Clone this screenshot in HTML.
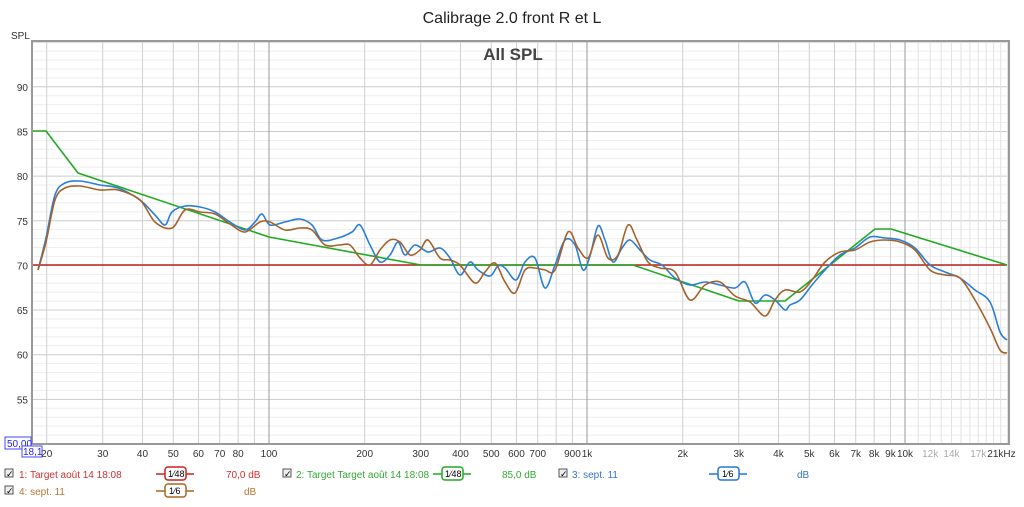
<!DOCTYPE html>
<html><head><meta charset="utf-8"><style>
body{margin:0;background:#fff;width:1024px;height:502px;overflow:hidden;font-family:"Liberation Sans",sans-serif}
svg text{font-family:"Liberation Sans",sans-serif}
</style></head><body>
<svg id="s" width="1024" height="502" xmlns="http://www.w3.org/2000/svg">
<text x="512" y="23" font-size="16" text-anchor="middle" fill="#222">Calibrage 2.0 front R et L</text>
<text x="11" y="39" font-size="10" fill="#333">SPL</text>
<g id="grid"></g>
<text x="513" y="60" font-size="17" font-weight="bold" text-anchor="middle" fill="#444">All SPL</text>
<g id="curves" fill="none" stroke-linejoin="round"></g>
<rect x="32" y="41" width="977" height="403" fill="none" stroke="#999" stroke-width="2"/>
<rect x="5" y="437" width="26" height="12" fill="#fff" stroke="#44f"/>
<text x="7" y="447" font-size="10" fill="#22f">50,00</text>
<rect x="22" y="446" width="20" height="11" fill="#fff" stroke="#44f"/>
<text x="23" y="455" font-size="10" fill="#22f">18,1</text>
<g font-size="10">
<rect x="5" y="469" width="8" height="8" fill="#eee" stroke="#555"/><text x="6" y="477" font-size="9">✓</text>
<text x="19" y="478" fill="#c33">1: Target août 14 18:08</text>
<line x1="156" y1="474" x2="194" y2="474" stroke="#c22" stroke-width="1.5"/><rect x="165" y="467" width="21" height="13" rx="3" fill="#fff" stroke="#c22" stroke-width="1.5"/><text x="168" y="477" font-size="9">1⁄48</text>
<text x="226" y="478" fill="#c33">70,0 dB</text>
<rect x="283" y="469" width="8" height="8" fill="#eee" stroke="#555"/><text x="284" y="477" font-size="9">✓</text>
<text x="296" y="478" fill="#3a3">2: Target Target août 14 18:08</text>
<line x1="433" y1="474" x2="471" y2="474" stroke="#2a2" stroke-width="1.5"/><rect x="442" y="467" width="21" height="13" rx="3" fill="#fff" stroke="#2a2" stroke-width="1.5"/><text x="445" y="477" font-size="9">1⁄48</text>
<text x="502" y="478" fill="#3a3">85,0 dB</text>
<rect x="559" y="469" width="8" height="8" fill="#eee" stroke="#555"/><text x="560" y="477" font-size="9">✓</text>
<text x="572" y="478" fill="#37c">3: sept. 11</text>
<line x1="709" y1="474" x2="747" y2="474" stroke="#27d" stroke-width="1.5"/><rect x="718" y="467" width="21" height="13" rx="3" fill="#fff" stroke="#27d" stroke-width="1.5"/><text x="722" y="477" font-size="9">1⁄6</text>
<text x="797" y="478" fill="#37c">dB</text>
<rect x="5" y="486" width="8" height="8" fill="#eee" stroke="#555"/><text x="6" y="494" font-size="9">✓</text>
<text x="19" y="495" fill="#b73">4: sept. 11</text>
<line x1="156" y1="491" x2="194" y2="491" stroke="#a62" stroke-width="1.5"/><rect x="165" y="484" width="21" height="13" rx="3" fill="#fff" stroke="#a62" stroke-width="1.5"/><text x="169" y="494" font-size="9">1⁄6</text>
<text x="244" y="495" fill="#b73">dB</text>
</g>
</svg>
<script>
const NS="http://www.w3.org/2000/svg";
const X=f=>587+318*Math.log10(f/1000), Y=d=>444-(d-50)*8.93;
const g=document.getElementById('grid');
function el(p,t,a){const e=document.createElementNS(NS,t);for(const k in a)e.setAttribute(k,a[k]);p.appendChild(e);return e;}
for(let d=51;d<=95;d++){el(g,'line',{x1:32,x2:1009,y1:Y(d),y2:Y(d),stroke:d%5?'#eee':'#ccc','stroke-width':1});}
for(let d=55;d<=90;d+=5){const t=el(g,'text',{x:28,y:Y(d)+4,'font-size':10,'text-anchor':'end',fill:'#333'});t.textContent=d;}
let fs=[];for(let f=20;f<100;f+=10)fs.push(f);for(let f=100;f<1000;f+=100)fs.push(f);for(let f=1000;f<10000;f+=1000)fs.push(f);for(let f=10000;f<=21000;f+=1000)fs.push(f);
fs.forEach(f=>{const dec=(f==100||f==1000||f==10000);el(g,'line',{x1:X(f),x2:X(f),y1:41,y2:444,stroke:dec?'#999':(f>10000?'#e2e2e2':'#d0d0d0'),'stroke-width':1});});
const labs=[[20,'20'],[30,'30'],[40,'40'],[50,'50'],[60,'60'],[70,'70'],[80,'80'],[100,'100'],[200,'200'],[300,'300'],[400,'400'],[500,'500'],[600,'600'],[700,'700'],[900,'900'],[1000,'1k'],[2000,'2k'],[3000,'3k'],[4000,'4k'],[5000,'5k'],[6000,'6k'],[7000,'7k'],[8000,'8k'],[9000,'9k'],[10000,'10k'],[12000,'12k'],[14000,'14k'],[17000,'17k'],[21000,'21kHz']];
labs.forEach(([f,s])=>{const t=el(g,'text',{x:X(f)+(f==21000?-6:0),y:457,'font-size':10,'text-anchor':'middle',fill:(f>10000&&f<21000)?'#aaa':'#333'});t.textContent=s;});
const c=document.getElementById('curves');
function pl(pts,col){el(c,'polyline',{points:pts.map(p=>p.join(',')).join(' '),stroke:col,'stroke-width':1.6});}
function smooth(pts,col){let d='M'+pts[0];for(let i=0;i<pts.length-1;i++){const p0=pts[i-1]||pts[i],p1=pts[i],p2=pts[i+1],p3=pts[i+2]||p2;
d+=` C${p1[0]+(p2[0]-p0[0])/6},${p1[1]+(p2[1]-p0[1])/6} ${p2[0]-(p3[0]-p1[0])/6},${p2[1]-(p3[1]-p1[1])/6} ${p2[0]},${p2[1]}`;}
el(c,'path',{d:d,stroke:col,'stroke-width':1.6});}
pl([[33,265],[1007,265]],'#b22');
pl([[33,131],[46,131],[78,173],[269,237],[421,265],[633,265],[739,301],[785,301],[875,229],[891,229],[1007,265]],'#2a2');
smooth([[38,270],[46,238],[55,195],[65,183],[80,181],[100,185],[118,188],[140,200],[155,215],[165,225],[172,212],[185,206],[200,207],[215,212],[230,222],[245,230],[255,222],[262,214],[270,225],[285,222],[300,219],[312,225],[322,240],[338,238],[352,232],[360,225],[370,245],[380,262],[390,255],[398,242],[405,255],[415,245],[428,252],[440,248],[450,258],[460,275],[470,262],[478,270],[490,276],[498,266],[505,268],[516,280],[525,262],[535,258],[545,288],[555,265],[565,240],[575,245],[583,270],[590,256],[598,226],[605,240],[613,262],[622,248],[630,240],[640,250],[650,260],[662,265],[675,278],[690,285],[705,282],[720,285],[735,288],[745,282],[755,303],[765,295],[775,300],[785,310],[790,305],[800,300],[812,285],[825,270],[840,255],[855,248],[870,237],[885,238],[900,240],[915,248],[930,265],[945,272],[960,278],[975,290],[990,302],[1000,332],[1007,340]],'#2a7fd8');
smooth([[38,270],[46,242],[55,200],[65,188],[80,186],[100,190],[118,190],[140,200],[155,222],[172,228],[185,210],[200,212],[215,214],[230,224],[245,232],[260,222],[270,222],[285,230],[300,228],[312,230],[325,245],[340,245],[350,245],[360,258],[370,265],[380,250],[390,240],[400,242],[410,255],[420,250],[428,240],[440,258],[450,260],[460,265],[475,283],[485,272],[495,263],[505,282],[515,293],[525,270],[535,268],[545,270],[555,270],[568,232],[578,248],[588,258],[598,235],[608,258],[618,255],[628,225],[637,240],[648,262],[660,268],[675,272],[690,300],[705,285],[720,282],[735,296],[750,302],[765,316],[775,300],[785,290],[800,292],[812,280],[825,262],[840,252],[855,250],[870,242],[885,240],[900,242],[915,250],[930,270],[945,275],[960,278],[975,300],[990,328],[1000,350],[1007,353]],'#a5622a');
</script>
</body></html>
